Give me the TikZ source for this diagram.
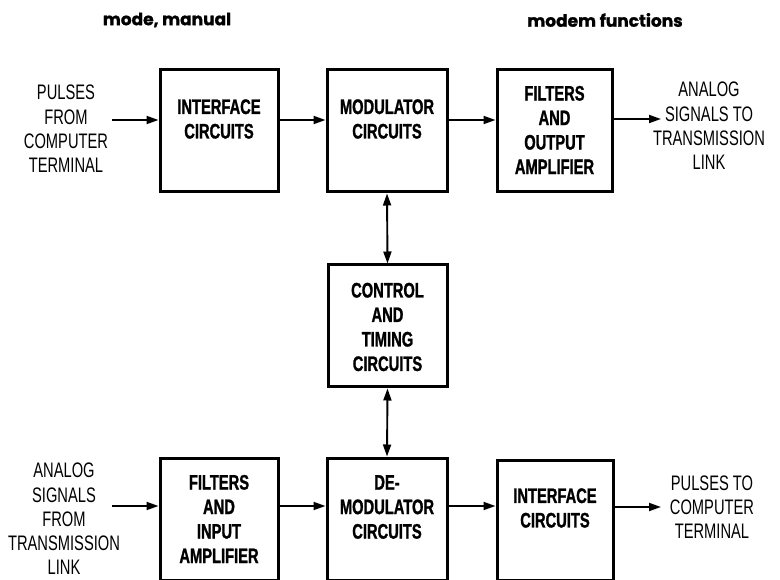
\documentclass[tikz,border=0pt]{standalone}
\usepackage{fontspec}
\setmainfont{Liberation Sans}[FakeStretch=0.70, BoldFeatures={FakeBold=1.2}]
\newfontfamily\headfont{Poppins}[BoldFeatures={FakeBold=1.2}]
\usetikzlibrary{arrows.meta}
\tikzset{
  blk/.style={draw, line width=3pt, inner sep=0pt},
  btext/.style={font=\bfseries\fontsize{21}{24.5}\selectfont, align=center, inner sep=0pt},
  ltext/.style={font=\fontsize{21}{24.3}\selectfont, align=center, inner sep=0pt},
  htext/.style={font=\headfont\bfseries\fontsize{17}{20}\selectfont, inner sep=0pt},
  arr/.style={line width=1.9pt, -{Triangle[length=12pt,width=8pt]}},
  darr/.style={line width=1.9pt, {Triangle[length=12pt,width=8pt]}-{Triangle[length=12pt,width=8pt]}}
}
\begin{document}
\begin{tikzpicture}[x=1pt,y=-1pt]
\useasboundingbox (0,0) rectangle (780,580);
% headers
\node[htext] (h1) at (167,20) {mode, manual};
\node[htext] (h2) at (605,20) {modem functions};
% top row boxes
\node[blk, minimum width=118pt, minimum height=122pt] (A) at (219,131) {};
\node[blk, minimum width=120pt, minimum height=122pt] (B) at (387,131) {};
\node[blk, minimum width=115pt, minimum height=122pt] (C) at (554.5,131) {};
\node[btext] (At) at (219,119) {INTERFACE\\CIRCUITS};
\node[btext] (Bt) at (387,119) {MODULATOR\\CIRCUITS};
\node[btext] (Ct) at (554.5,130) {FILTERS\\AND\\OUTPUT\\AMPLIFIER};
% control box
\node[blk, minimum width=119pt, minimum height=122pt] (K) at (387.5,326) {};
\node[btext] (Kt) at (387.5,327) {CONTROL\\AND\\TIMING\\CIRCUITS};
% bottom row boxes
\node[blk, minimum width=118pt, minimum height=122pt] (D) at (219,519) {};
\node[blk, minimum width=120pt, minimum height=122pt] (E) at (387,519) {};
\node[blk, minimum width=116pt, minimum height=120pt] (F) at (555,520) {};
\node[btext] (Dt) at (219,519) {FILTERS\\AND\\INPUT\\AMPLIFIER};
\node[btext] (Et) at (387,507) {DE-\\MODULATOR\\CIRCUITS};
\node[btext] (Ft) at (555,508) {INTERFACE\\CIRCUITS};
% side labels
\node[ltext] (L1) at (66,129) {PULSES\\FROM\\COMPUTER\\TERMINAL};
\node[ltext] (R1) at (709,126) {ANALOG\\SIGNALS TO\\TRANSMISSION\\LINK};
\node[ltext] (L2) at (64,519) {ANALOG\\SIGNALS\\FROM\\TRANSMISSION\\LINK};
\node[ltext] (R2) at (712,507) {PULSES TO\\COMPUTER\\TERMINAL};
% row levels and free ends
\coordinate (yt) at (0,120);
\coordinate (yb) at (0,506);
\coordinate (inT) at (112,120);
\coordinate (outT) at (661,119);
\coordinate (inB) at (112,506);
\coordinate (outB) at (661,507);
% top row arrows
\draw[arr] (inT) -- (A.west |- yt);
\draw[arr] (A.east |- yt) -- (B.west |- yt);
\draw[arr] (B.east |- yt) -- (C.west |- yt);
\draw[arr] (C.east |- outT) -- (outT);
% bottom row arrows
\draw[arr] (inB) -- (D.west |- yb);
\draw[arr] (D.east |- yb) -- (E.west |- yb);
\draw[arr] (E.east |- yb) -- (F.west |- yb);
\draw[arr] (F.east |- outB) -- (outB);
% vertical double arrows
\draw[darr] (B.south) -- (K.north);
\draw[darr] (K.south) -- (E.north);
\end{tikzpicture}
\end{document}
